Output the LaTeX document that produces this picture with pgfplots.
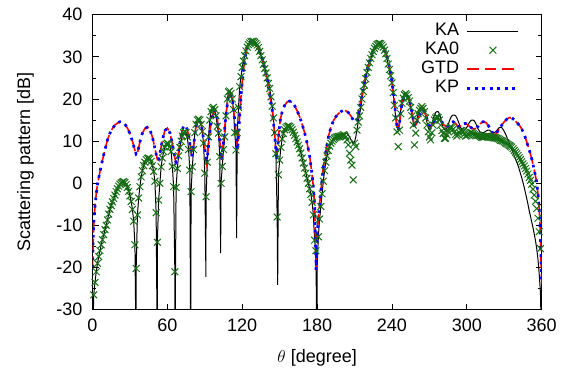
\documentclass[border=0pt]{standalone}
\usepackage{fontspec}
\setmainfont{Liberation Sans}
\usepackage{pgfplots}
\usepackage{pgfplotstable}
\pgfplotsset{compat=1.18}
\definecolor{kagreen}{RGB}{20,110,20}
\definecolor{gtdred}{RGB}{255,0,0}
\definecolor{kpblue}{RGB}{0,0,255}

\pgfplotstableread{
t ka0 ka
0 nan -40
1 -26.5 -26.5
2 -23.5 -23.5
3 -21 -21
4 -19 -19
5 -17.4 -17.4
6 -16 -16
7 -14.6 -14.6
8 -13.4 -13.4
9 -12.2 -12.2
10 -11 -11
11 -10 -10
12 -8.7 -8.7
13 -7.3 -7.3
14 -6.2 -6.2
15 -5.3 -5.3
16 -4.4 -4.4
17 -3.6 -3.6
18 -2.8 -2.8
19 -2 -2
20 -1.3 -1.3
21 -0.7 -0.7
22 -0.2 -0.2
23 0.1 0.1
24 0.3 0.3
25 0.4 0.4
26 0.2 0.2
27 -0.3 -0.3
28 -1 -1
29 -1.9 -1.9
30 -3 -3
31 -4.3 -4.3
32 -6.2 -6.2
33 -9 -9
34 -14.6 -14.6
34.9 nan -40
35 -20.2 -20.2
36 -7.5 -7.5
37 -3.5 -3.5
38 -0.8 -0.8
39 1.5 1.5
40 3 3
41 4.2 4.2
42 5 5
43 5.6 5.6
44 5.9 5.9
45 6 6
46 5.8 5.8
47 5.2 5.2
48 4.2 4.2
49 2.8 2.8
50 0.5 0.5
51 -7 -7
51.9 nan -40
52 -14 -14
53 -4 -4
54 0 0
55 3.9 3.9
56 6 6
57 7.5 7.5
58 8.6 8.6
59 9.3 9.3
60 9.5 9.5
61 9.3 9.3
62 8.7 8.7
63 7.5 7.5
64 4 4
65 -0.8 -0.8
66 -21 -21
66.1 nan -40
67 -1 -1
68 3.5 3.5
69 6.5 6.5
70 8.5 8.5
71 10 10
72 11.2 11.2
73 12 12
74 12.3 12.3
75 12 12
76 11 11
77 8 8
78 3.1 3.1
78.7 nan -40
79 -2 -2
80 3.9 3.9
81 8 8
82 12 12
83 14 14
84 15 15
85 15.2 15.2
86 15 15
87 14 14
88 12.3 12.3
89 9.5 9.5
90 2.4 2.4
90.9 nan -22.2
91 -3.2 -3.2
92 5 5
93 11 11
94 15 15
95 17 17
96 17.8 17.8
97 18 18
98 17.5 17.5
99 16 16
100 13.5 13.5
101 11.9 11.9
102 6.3 6.3
102.7 nan -16.6
103 0 0
104 4 4
105 8 8
106 11 11
107 16 16
108 20 20
109 21.7 21.7
110 21.9 21.9
111 21.3 21.3
112 20 20
113 17.5 17.5
114 12 12
115 7.9 7.9
115.5 nan -13
116 12 12
117 18 18
118 22.9 22.9
119 25.3 25.3
120 27.5 27.5
121 29 29
122 30.3 30.3
123 31.4 31.4
124 32.3 32.3
125 32.9 32.9
126 33.3 33.3
127 33.6 33.6
128 33.7 33.7
129 33.7 33.7
130 33.5 33.5
131 33.2 33.2
132 32.8 32.8
133 32.2 32.2
134 31.3 31.3
135 30.3 30.3
136 29.3 29.3
137 28.2 28.2
138 27.2 27.2
139 26.2 26.2
140 25 25
141 23.7 23.7
142 22.5 22.5
143 20.5 20.5
144 18.3 18.3
145 15.5 15.5
146 12 12
147 7 7
148 -8 -8
148.4 nan -24.1
149 2 2
150 5.5 5.5
151 8.5 8.5
152 10.5 10.5
153 11.8 11.8
154 12.7 12.7
155 13.2 13.2
156 13.5 13.5
157 13.6 13.6
158 13.5 13.5
159 13.2 13.2
160 12.7 12.7
161 12.1 12.1
162 11.4 11.4
163 10.6 10.6
164 9.8 9.8
165 9 9
166 8.2 8.2
167 7.2 7.2
168 6 6
169 4.8 4.8
170 3.6 3.6
171 2.4 2.4
172 1.2 1.2
173 0 0
174 -1.3 -1.3
175 -2.6 -2.6
176 -4.5 -4.5
177 -7.5 -7.5
178 -13.5 -13.5
179 -16 -16
179.9 nan -40
180 nan -20
181 -12.7 -12.7
182 -8.5 -8.5
183 -5.5 -5.5
184 -2.5 -2.5
185 0.5 0.5
186 3 3
187 5 5
188 6.5 6.5
189 7.8 7.8
190 8.8 8.8
191 9.5 9.5
192 10 10
193 10.4 10.4
194 10.7 10.7
195 10.9 10.9
196 11 11
197 11.1 11.1
198 11.1 11.1
199 11.2 11.2
200 11.3 11.3
201 11.5 11.6
202 11.4 11.8
203 11 11.9
204 10.3 11.8
205 9.1 11.5
206 7.1 11
207 5.5 10.4
208 4.3 9.8
209 0.8 9.5
210 9.5 9.8
211 8.7 11
212 12.6 12.8
213 14.5 14.6
214 16 16.2
215 18 18
216 20 20
217 21.8 21.8
218 23.3 23.3
219 24.8 24.8
220 26.3 26.3
221 27.5 27.5
222 28.6 28.6
223 29.6 29.6
224 30.5 30.5
225 31.3 31.3
226 32 32
227 32.5 32.5
228 32.9 32.9
229 33.1 33.1
230 33.2 33.2
231 33.1 33.1
232 32.8 32.8
233 32.3 32.3
234 31.6 31.6
235 30.7 30.7
236 29.6 29.6
237 28.3 28.3
238 27 27
239 25.5 25.5
240 23.8 23.8
241 21.5 21.5
242 18.5 18.5
243 15.5 15.5
244 12.2 13.5
245 8.7 13
246 12.6 14.5
247 16.5 17.5
248 19 19.5
249 20.2 20.5
250 21 21.2
251 21.3 21.4
252 21 21.2
253 20.3 20.5
254 19.5 19.5
255 18 18
256 16 16.2
257 13.8 14.5
258 9.1 13.6
259 11.9 14
260 15 15.2
261 16.5 16.5
262 17.3 17.5
263 17.8 18
264 18.2 18.2
265 17.8 18
266 17 17.2
267 15.5 16
268 13.8 14.5
269 12.2 13.2
270 11 12.7
271 10.3 13
272 12 14
273 13.8 15.2
274 15 16.2
275 15.5 16.8
276 15.8 17
277 15.6 17
278 15 16.5
279 13.8 15.5
280 12.5 14.2
281 11.8 13.2
282 10.7 12.7
283 10.7 12.6
284 11.5 13
285 12.3 13.8
286 13 14.8
287 13.4 15.5
288 13.2 16
289 12.8 16.2
290 12.2 16.2
291 11.6 16
292 11.2 15.5
293 11.5 14.8
294 12 14
295 12.5 13.3
296 12.5 12.8
297 12.2 12.6
298 11.6 12.6
299 11.2 12.8
300 11.3 13.3
301 11.6 13.9
302 11.8 14.4
303 12 14.8
304 12 15
305 11.8 15
306 11.5 14.8
307 11.3 14.3
308 11.3 13.6
309 11.4 12.9
310 11.3 12.4
311 11.1 12.1
312 10.9 12
313 10.9 12
314 11 12.1
315 11.1 12.3
316 11.2 12.5
317 11.2 12.6
318 11.1 12.6
319 11 12.4
320 10.9 12.2
321 10.8 12
322 10.8 12
323 10.8 12.2
324 10.7 12.5
325 10.6 12.9
326 10.4 13.2
327 10.2 13.3
328 10.1 13.2
329 10 12.8
330 9.8 12.3
331 9.6 11.7
332 9.4 11
333 9.2 10.3
334 9 9.5
335 8.8 8.8
336 8.6 8
337 8.2 7.3
338 7.8 6.5
339 7.4 5.8
340 7 5
341 6.6 4.2
342 6.1 3.3
343 5.6 2.3
344 5.1 1.3
345 4.6 0.2
346 4.1 -1
347 3.5 -2.3
348 2.9 -3.6
349 2.2 -5
350 1.4 -6.5
351 0.7 -7.8
352 -0.2 -9.2
353 -1.4 -10.5
354 -2.8 -12
355 -4.3 -13.6
356 -6 -15.5
357 -8.3 -18
358 -11.5 -21.5
359 -15.5 -26
360 nan -40
}\katable

\pgfplotstableread{
t g
0 -20
0.5 -14
1 -9.5
2 -5.5
3 -2.5
4 -0.3
5 1.3
6 2.8
8 5.5
10 8
12 10.3
14 11.9
16 13
18 13.8
20 14.3
22 14.6
24 14.5
26 14
28 13.1
30 11.8
32 10
34 7.8
35 6.9
36 7.1
37 8.5
38 9.8
40 11.9
42 13
44 13.3
46 12.7
48 11
50 8.3
52 5.6
53 5.7
54 7
56 10.2
58 12.5
60 13.1
62 12
64 9.4
66 6
67 4.8
68 5
69 7.5
71 11.5
73 13.6
75 13.6
77 11.5
78 9.5
79.5 6.3
81 9
83 13.5
85 15
87 14.2
89 10.5
91.5 4.7
93 9
95 14.5
97.5 17.4
100 15.5
102 10
103.5 5.5
105 10
107 16.5
109 20.5
110.5 21.3
112 20
114 15
116.3 7.9
117.5 14
119 20.5
120 24
122 29.5
124 32.3
126 33.4
128 33.7
130 33.5
132 32.5
134 31
136 29.8
138 27.5
140 24.8
142 21
144 17.5
146 11.5
147.6 5.5
149 11
150.5 15
152 17
154 18.5
156 19.3
158 19.5
160 19.2
162 18.4
164 17.2
166 15.8
168 14
170 12
172 9.5
174 6.5
176 2
177 -0.8
178 -5
179.2 -20.6
180 -13
181 -8
182 -5
183 -2
185 3.9
187 7.5
189 11
191 13.2
193 14.8
195 15.8
197 16.5
199 17
201 17.3
203 17.2
205 16.8
207 16
209 15
210.5 14.5
212 15
213.5 17
215 19.5
217 22.5
219 25.5
221 28
223 30
225 31.5
227 32.6
229 33.1
231 33
233 32.3
235 31
237 29
239 26
240 24
241.5 20.5
243 16
244 13.5
245 12.6
246 14
247 17
248.5 19.5
250 20.7
251.5 21
253 20.5
255 18.5
256.5 16
258 13.4
259.5 14
261 15.5
263 16.8
265 17.4
267 16.3
269 14.3
270.5 13.4
272 13.8
274 15
276 15.8
277.5 15.8
279 15
281 14
283.5 13.4
285 13.6
287 14.3
289 14.6
291 14.2
293 13.4
295 13.6
297 14.1
299 14.2
301 13.8
303 13.3
305 12.9
307 13
309 13.5
311 14.2
313 14.6
315 14.5
317 13.8
319 12.8
321 11.8
322.6 11.5
324 12
326 12.9
328 13.8
330 14.6
332 15.2
334 15.6
336 15.5
338 15.1
340 14.4
342 13.8
344 12.9
346 11.6
348 9.8
350 8
352 5.8
354 3.2
356 0.2
357 -2.5
358 -6
358.6 -9.5
359.2 -15
359.6 -20
360 -24
}\gtdtable

\begin{document}
\begin{tikzpicture}
\path[use as bounding box] (-92.5pt,-59.3pt) rectangle (479.5pt,309.7pt);
\begin{axis}[
  at={(0pt,0pt)}, anchor=south west,
  scale only axis, width=449.2pt, height=295pt,
  xmin=0, xmax=360, ymin=-30, ymax=40,
  xtick={0,60,...,360}, ytick={-30,-20,...,40},
  minor y tick num=1,
  font=\fontsize{18}{21.6}\selectfont,
  /pgf/number format/assume math mode=true,
  tick align=inside,
  major tick length=6pt, minor tick length=3.5pt,
  every tick/.style={black, line width=0.8pt},
  axis line style={line width=1pt},
  xticklabel style={yshift=-6pt},
  yticklabel style={xshift=-6.5pt},
  xlabel={$\theta$ [degree]},
  ylabel={Scattering pattern [dB]},
  xlabel style={at={(axis description cs:0.5,-0.1773)}, anchor=base},
  ylabel style={at={(axis description cs:-0.1391,0.5)}, anchor=base},
  legend style={draw=none, fill=none, at={(0.9517,0.977)}, anchor=north east,
    inner sep=0pt, row sep=0pt, column sep=6pt,
    nodes={inner sep=1pt, text height=13pt, text depth=4pt}},
  legend cell align=right,
  legend plot pos=right,
  legend image code/.code={\draw[mark repeat=2,mark phase=2,#1] plot coordinates {(0pt,0pt) (25.5pt,0pt) (51pt,0pt)};},
]
\addplot[black, line width=1pt, line join=bevel] table[x=t,y=ka] {\katable};
\addlegendentry{KA}
\addplot[only marks, mark=x, mark size=4.8pt, color=kagreen, mark options={line width=1pt}] table[x=t,y=ka0] {\katable};
\addlegendentry{KA0}
\addplot[color=gtdred, draw=gtdred, line width=1.6pt, dash pattern=on 11.5pt off 6pt] table[x=t,y=g] {\gtdtable};
\addlegendentry{GTD}
\addplot[color=kpblue, draw=kpblue, line width=2.7pt, dash pattern=on 2.7pt off 4.8pt] table[x=t,y=g] {\gtdtable};
\addlegendentry{KP}
\end{axis}
\end{tikzpicture}
\end{document}
